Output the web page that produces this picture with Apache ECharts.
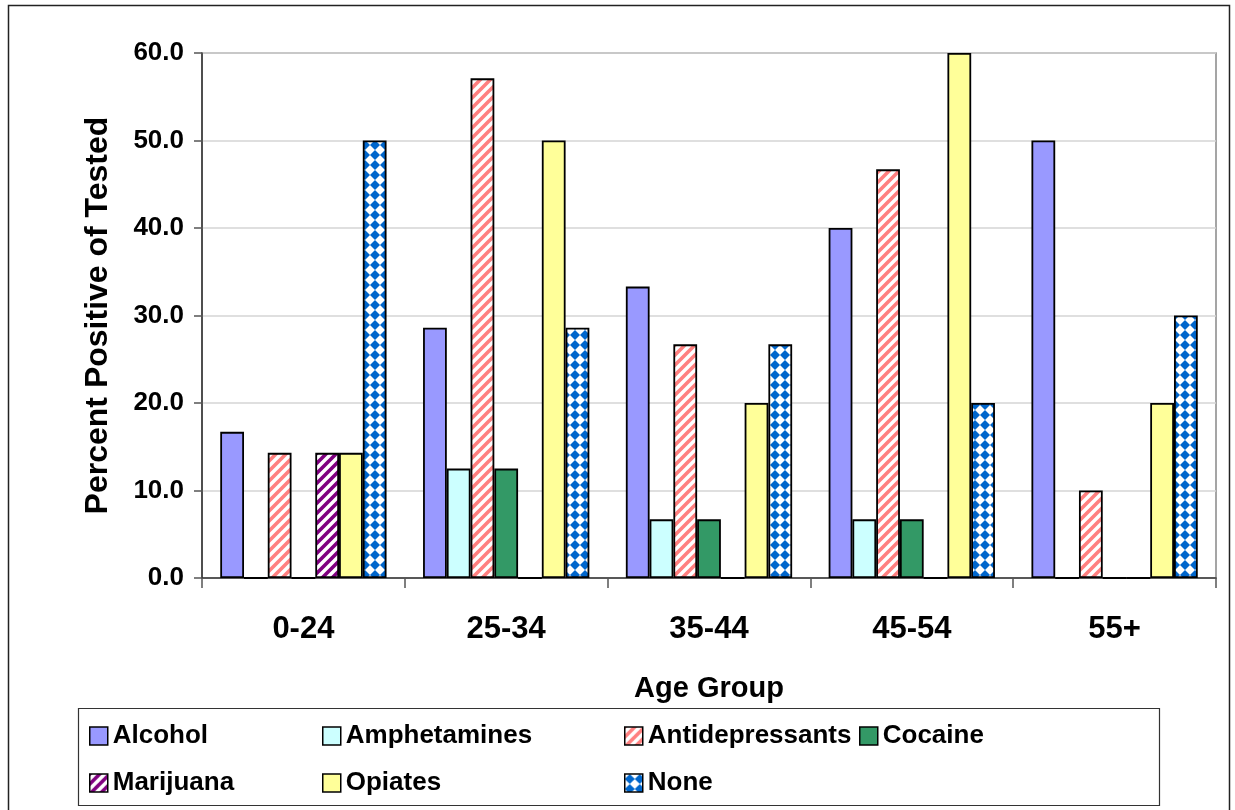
<!DOCTYPE html>
<html>
<head>
<meta charset="utf-8">
<script src="https://cdn.jsdelivr.net/npm/echarts@6/dist/echarts.min.js"></script>
<style>
  html, body { margin: 0; padding: 0; background: #fff; }
  #chart { width: 1235px; height: 810px; }
</style>
</head>
<body>
<div id="chart"></div>
<script>
// Age groups along the x axis
const ageGroups = ['0-24', '25-34', '35-44', '45-54', '55+'];
// Percent positive of tested, per substance, per age group
const alcohol = [16.7, 28.6, 33.3, 40.0, 50.0];
const amphetamines = [0, 12.5, 6.7, 6.7, 0];
const antidepressants = [14.3, 57.1, 26.7, 46.7, 10.0];
const cocaine = [0, 12.5, 6.7, 6.7, 0];
const marijuana = [14.3, 0, 0, 0, 0];
const opiates = [14.3, 50.0, 20.0, 60.0, 20.0];
const none = [50.0, 28.6, 26.7, 20.0, 30.0];
const yTicks = [0, 10, 20, 30, 40, 50, 60];

const FONT = '"Liberation Sans", Arial, sans-serif';

// Diagonal stripe fill ("/" direction) on white
function stripePattern(color) {
  const n = 10;
  const c = document.createElement('canvas');
  c.width = n; c.height = n;
  const g = c.getContext('2d');
  g.fillStyle = '#fff';
  g.fillRect(0, 0, n, n);
  g.strokeStyle = color;
  g.lineWidth = 3.6;
  g.beginPath();
  for (let k = -1; k <= 1; k++) {
    g.moveTo(-2 + k * n, n + 2);
    g.lineTo(n + 2 + k * n, -2);
  }
  g.stroke();
  return { image: c, repeat: 'repeat' };
}

// Diamond checker fill (blue / white)
function diamondPattern(color) {
  const n = 10;
  const c = document.createElement('canvas');
  c.width = n; c.height = n;
  const g = c.getContext('2d');
  g.fillStyle = '#fff';
  g.fillRect(0, 0, n, n);
  g.fillStyle = color;
  g.beginPath();
  g.moveTo(n / 2, 0); g.lineTo(n, n / 2); g.lineTo(n / 2, n); g.lineTo(0, n / 2);
  g.closePath();
  g.fill();
  return { image: c, repeat: 'repeat' };
}

const seriesDefs = [
  { name: 'Alcohol', data: alcohol, color: '#9999FF' },
  { name: 'Amphetamines', data: amphetamines, color: '#CCFFFF' },
  { name: 'Antidepressants', data: antidepressants, color: stripePattern('#FF8080') },
  { name: 'Cocaine', data: cocaine, color: '#339966' },
  { name: 'Marijuana', data: marijuana, color: stripePattern('#800080') },
  { name: 'Opiates', data: opiates, color: '#FFFF99' },
  { name: 'None', data: none, color: diamondPattern('#0066CC') }
];

const legendText = { fontFamily: FONT, fontWeight: 'bold', fontSize: 26, color: '#000' };
function legendCol(names, left) {
  return {
    data: names,
    left: left,
    top: 718,
    orient: 'vertical',
    itemWidth: 18,
    itemHeight: 18,
    itemGap: 21,
    icon: 'rect',
    selectedMode: false,
    textStyle: legendText,
    itemStyle: { borderColor: '#000', borderWidth: 1.5 }
  };
}

const chart = echarts.init(document.getElementById('chart'), null, { renderer: 'canvas' });
chart.setOption({
  backgroundColor: '#fff',
  animation: false,
  grid: {
    left: 202, top: 53, right: 19, bottom: 232,
    show: true, borderColor: '#888', borderWidth: 1.5
  },
  legend: [
    legendCol(['Alcohol', 'Marijuana'], 84),
    legendCol(['Amphetamines', 'Opiates'], 317),
    legendCol(['Antidepressants', 'None'], 619),
    legendCol(['Cocaine'], 854)
  ],
  graphic: [
    { type: 'rect', shape: { x: 8.5, y: 5.5, width: 1221, height: 830 },
      style: { fill: 'none', stroke: '#222', lineWidth: 1.5 }, silent: true },
    { type: 'rect', shape: { x: 78.5, y: 708.5, width: 1081, height: 97 },
      style: { fill: 'none', stroke: '#333', lineWidth: 1.2 }, silent: true }
  ],
  xAxis: {
    type: 'category',
    data: ageGroups,
    name: 'Age Group',
    nameLocation: 'middle',
    nameGap: 96,
    nameTextStyle: { fontFamily: FONT, fontWeight: 'bold', fontSize: 29, color: '#000' },
    axisLine: { show: true, lineStyle: { color: '#333', width: 1.5 } },
    axisTick: { show: true, alignWithLabel: false, length: 10, lineStyle: { color: '#555', width: 1.5 } },
    axisLabel: { margin: 36, fontFamily: FONT, fontWeight: 'bold', fontSize: 31, color: '#000' },
    splitLine: { show: false }
  },
  yAxis: {
    type: 'value',
    min: yTicks[0],
    max: yTicks[yTicks.length - 1],
    interval: 10,
    name: 'Percent Positive of Tested',
    nameLocation: 'middle',
    nameGap: 88,
    nameRotate: 90,
    nameTextStyle: { fontFamily: FONT, fontWeight: 'bold', fontSize: 32, color: '#000' },
    axisLine: { show: true, lineStyle: { color: '#333', width: 1.5 } },
    axisTick: { show: true, inside: false, length: 8, lineStyle: { color: '#555', width: 1.5 } },
    axisLabel: {
      margin: 18, fontFamily: FONT, fontWeight: 'bold', fontSize: 26, color: '#000',
      formatter: v => v.toFixed(1)
    },
    splitLine: { show: true, lineStyle: { color: '#d4d4d4', width: 1.5 } }
  },
  series: seriesDefs.map(s => ({
    name: s.name,
    type: 'bar',
    data: s.data,
    barGap: '0%',
    barCategoryGap: '18%',
    itemStyle: { color: s.color, borderColor: '#000', borderWidth: 1.8 }
  }))
});
</script>
</body>
</html>
